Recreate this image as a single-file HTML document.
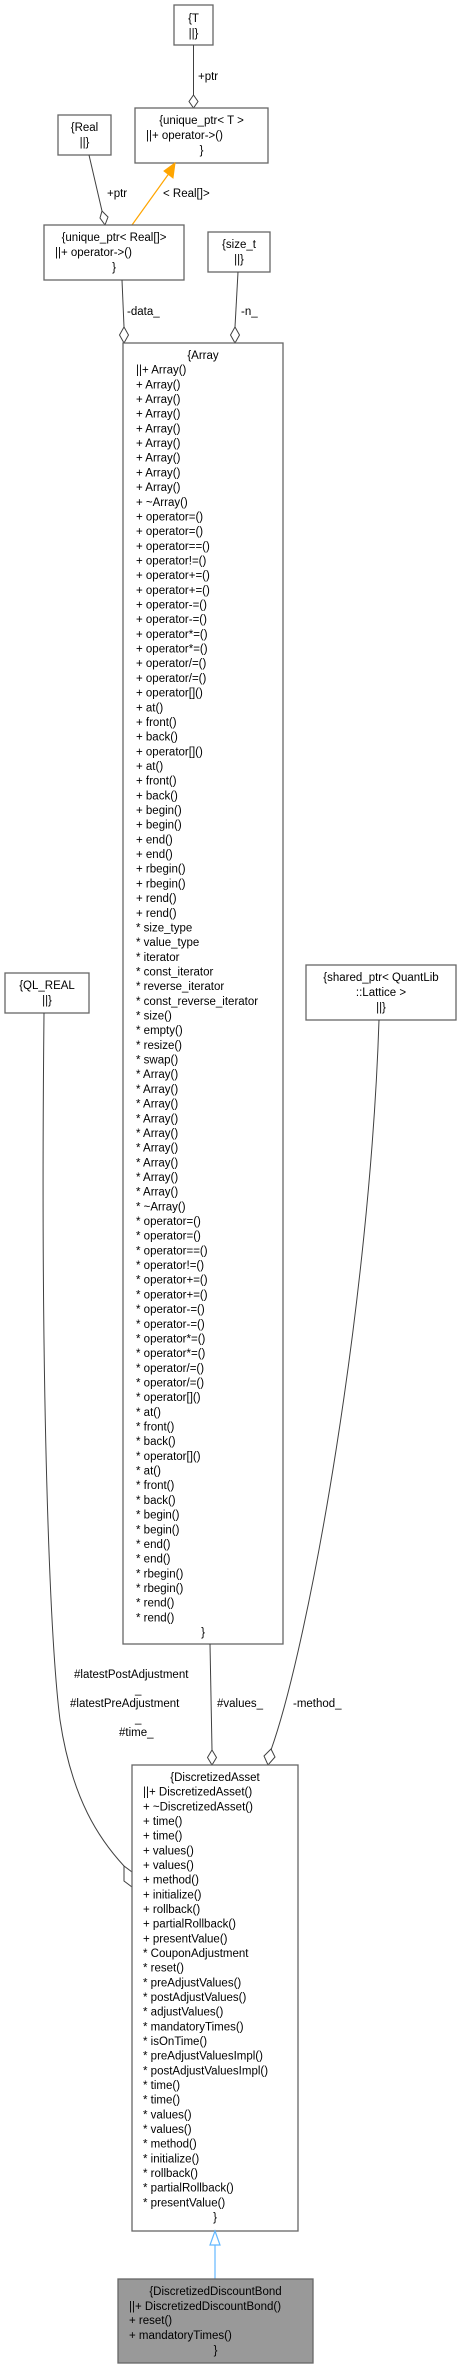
<!DOCTYPE html>
<html><head><meta charset="utf-8"><style>
body{margin:0;background:#fff}
svg{display:block}
text{font-family:"Liberation Sans",Arial,sans-serif;font-size:11.5px;fill:#000}
.b{fill:#fff;stroke:#666;stroke-width:1.3}
.e{fill:none;stroke:#404040;stroke-width:1}
.d{fill:#fff;stroke:#404040;stroke-width:1}
</style></head><body>
<svg width="463" height="2369" viewBox="0 0 463 2369" xmlns="http://www.w3.org/2000/svg">
<rect class="b" x="174" y="5" width="39" height="40"/>
<text x="193.5" y="22" text-anchor="middle">{T</text>
<text x="193.5" y="37" text-anchor="middle">||}</text>
<path class="e" d="M193.5,45 V95"/>
<path class="d" d="M193.5,95 L198,101.5 L193.5,108 L189,101.5Z"/>
<text x="198" y="80">+ptr</text>
<rect class="b" x="135" y="108" width="133" height="55"/>
<text x="201.5" y="124" text-anchor="middle">{unique_ptr&lt; T &gt;</text>
<text x="146" y="139">||+ operator-&gt;()</text>
<text x="201.5" y="154" text-anchor="middle">}</text>
<rect class="b" x="58" y="115" width="53" height="40"/>
<text x="84.5" y="131" text-anchor="middle">{Real</text>
<text x="84.5" y="146" text-anchor="middle">||}</text>
<path class="e" d="M89,155 L102,211"/>
<path class="d" d="M102,211 L108,217 L105,225 L100,218Z"/>
<text x="107" y="197">+ptr</text>
<path d="M132,225 L170,172" stroke="orange" stroke-width="1.2" fill="none"/>
<path d="M175,163 L173,178 L164,171Z" fill="orange" stroke="orange"/>
<text x="163" y="197">&lt; Real[]&gt;</text>
<rect class="b" x="44" y="225" width="140" height="55"/>
<text x="114" y="241" text-anchor="middle">{unique_ptr&lt; Real[]&gt;</text>
<text x="55" y="256">||+ operator-&gt;()</text>
<text x="114" y="271" text-anchor="middle">}</text>
<rect class="b" x="208" y="232" width="62" height="40"/>
<text x="239" y="248" text-anchor="middle">{size_t</text>
<text x="239" y="263" text-anchor="middle">||}</text>
<path class="e" d="M122,280 L124,327"/>
<path class="d" d="M124,327 L128.5,335 L124,343 L119.5,335Z"/>
<text x="127" y="315">-data_</text>
<path class="e" d="M238,272 L235,327"/>
<path class="d" d="M235,327 L239.5,335 L235,343 L230.5,335Z"/>
<text x="241" y="315">-n_</text>
<rect class="b" x="123" y="343" width="160" height="1301"/>
<g id="arr"></g>
<rect class="b" x="5" y="973" width="84" height="40"/>
<text x="47" y="989" text-anchor="middle">{QL_REAL</text>
<text x="47" y="1004" text-anchor="middle">||}</text>
<rect class="b" x="306" y="965" width="150" height="55"/>
<text x="381" y="981" text-anchor="middle">{shared_ptr&lt; QuantLib</text>
<text x="381" y="996" text-anchor="middle">::Lattice &gt;</text>
<text x="381" y="1011" text-anchor="middle">||}</text>
<path class="e" d="M44,1013 C40,1400 50,1640 60,1720 C72,1800 100,1840 124,1866"/>
<path class="d" d="M124,1866 L132,1872 L132,1887 L124,1881Z"/>
<path class="e" d="M210,1644 L212,1750"/>
<path class="d" d="M212,1750 L216.5,1757.5 L212,1765 L207.5,1757.5Z"/>
<path class="e" d="M379,1020 C370,1300 310,1640 271,1750"/>
<path class="d" d="M271,1749 L275,1757 L268,1765 L264,1756Z"/>
<text x="74" y="1678">#latestPostAdjustment</text>
<text x="135" y="1693">_</text>
<text x="70" y="1707">#latestPreAdjustment</text>
<text x="135" y="1722">_</text>
<text x="119" y="1736">#time_</text>
<text x="217" y="1707">#values_</text>
<text x="293" y="1707">-method_</text>
<rect class="b" x="132" y="1765" width="166" height="466"/>
<g id="da"></g>
<path d="M215,2279 V2245" stroke="#63b8ff" stroke-width="1.2" fill="none"/>
<path d="M215,2231 L220,2245 L210,2245Z" fill="#fff" stroke="#63b8ff" stroke-width="1.2"/>
<rect x="118" y="2279" width="195" height="84" fill="#999" stroke="#666" stroke-width="1.3"/>
<text x="215.5" y="2295" text-anchor="middle">{DiscretizedDiscountBond</text>
<text x="129" y="2310">||+ DiscretizedDiscountBond()</text>
<text x="129" y="2324">+ reset()</text>
<text x="129" y="2339">+ mandatoryTimes()</text>
<text x="215.5" y="2354" text-anchor="middle">}</text>
</svg>
<script>
(function(){
var NS="http://www.w3.org/2000/svg";
function fill(id,lines,x0,cx,y0,lh){
 var g=document.getElementById(id);
 lines.forEach(function(s,i){
  var t=document.createElementNS(NS,"text");
  var y=y0+i*lh;
  if(i==0||i==lines.length-1){t.setAttribute("x",cx);t.setAttribute("text-anchor","middle");}
  else t.setAttribute("x",x0);
  t.setAttribute("y",y.toFixed(1));
  t.textContent=s;g.appendChild(t);
 });
}
var ops=["operator=()","operator=()","operator==()","operator!=()","operator+=()","operator+=()","operator-=()","operator-=()","operator*=()","operator*=()","operator/=()","operator/=()","operator[]()","at()","front()","back()","operator[]()","at()","front()","back()","begin()","begin()","end()","end()","rbegin()","rbegin()","rend()","rend()"];
var a=["{Array","||+ Array()"];
for(var i=0;i<8;i++)a.push("+ Array()");
a.push("+ ~Array()");
ops.forEach(function(o){a.push("+ "+o)});
["size_type","value_type","iterator","const_iterator","reverse_iterator","const_reverse_iterator","size()","empty()","resize()","swap()"].forEach(function(o){a.push("* "+o)});
for(var i=0;i<9;i++)a.push("* Array()");
a.push("* ~Array()");
ops.forEach(function(o){a.push("* "+o)});
a.push("}");
var lh=(1636-359)/(a.length-1);
fill("arr",a,136,203,359,lh);
var d=["{DiscretizedAsset","||+ DiscretizedAsset()","+ ~DiscretizedAsset()","+ time()","+ time()","+ values()","+ values()","+ method()","+ initialize()","+ rollback()","+ partialRollback()","+ presentValue()","* CouponAdjustment","* reset()","* preAdjustValues()","* postAdjustValues()","* adjustValues()","* mandatoryTimes()","* isOnTime()","* preAdjustValuesImpl()","* postAdjustValuesImpl()","* time()","* time()","* values()","* values()","* method()","* initialize()","* rollback()","* partialRollback()","* presentValue()","}"];
fill("da",d,143,215,1781,(2221-1781)/30);
})();
</script>
</body></html>
